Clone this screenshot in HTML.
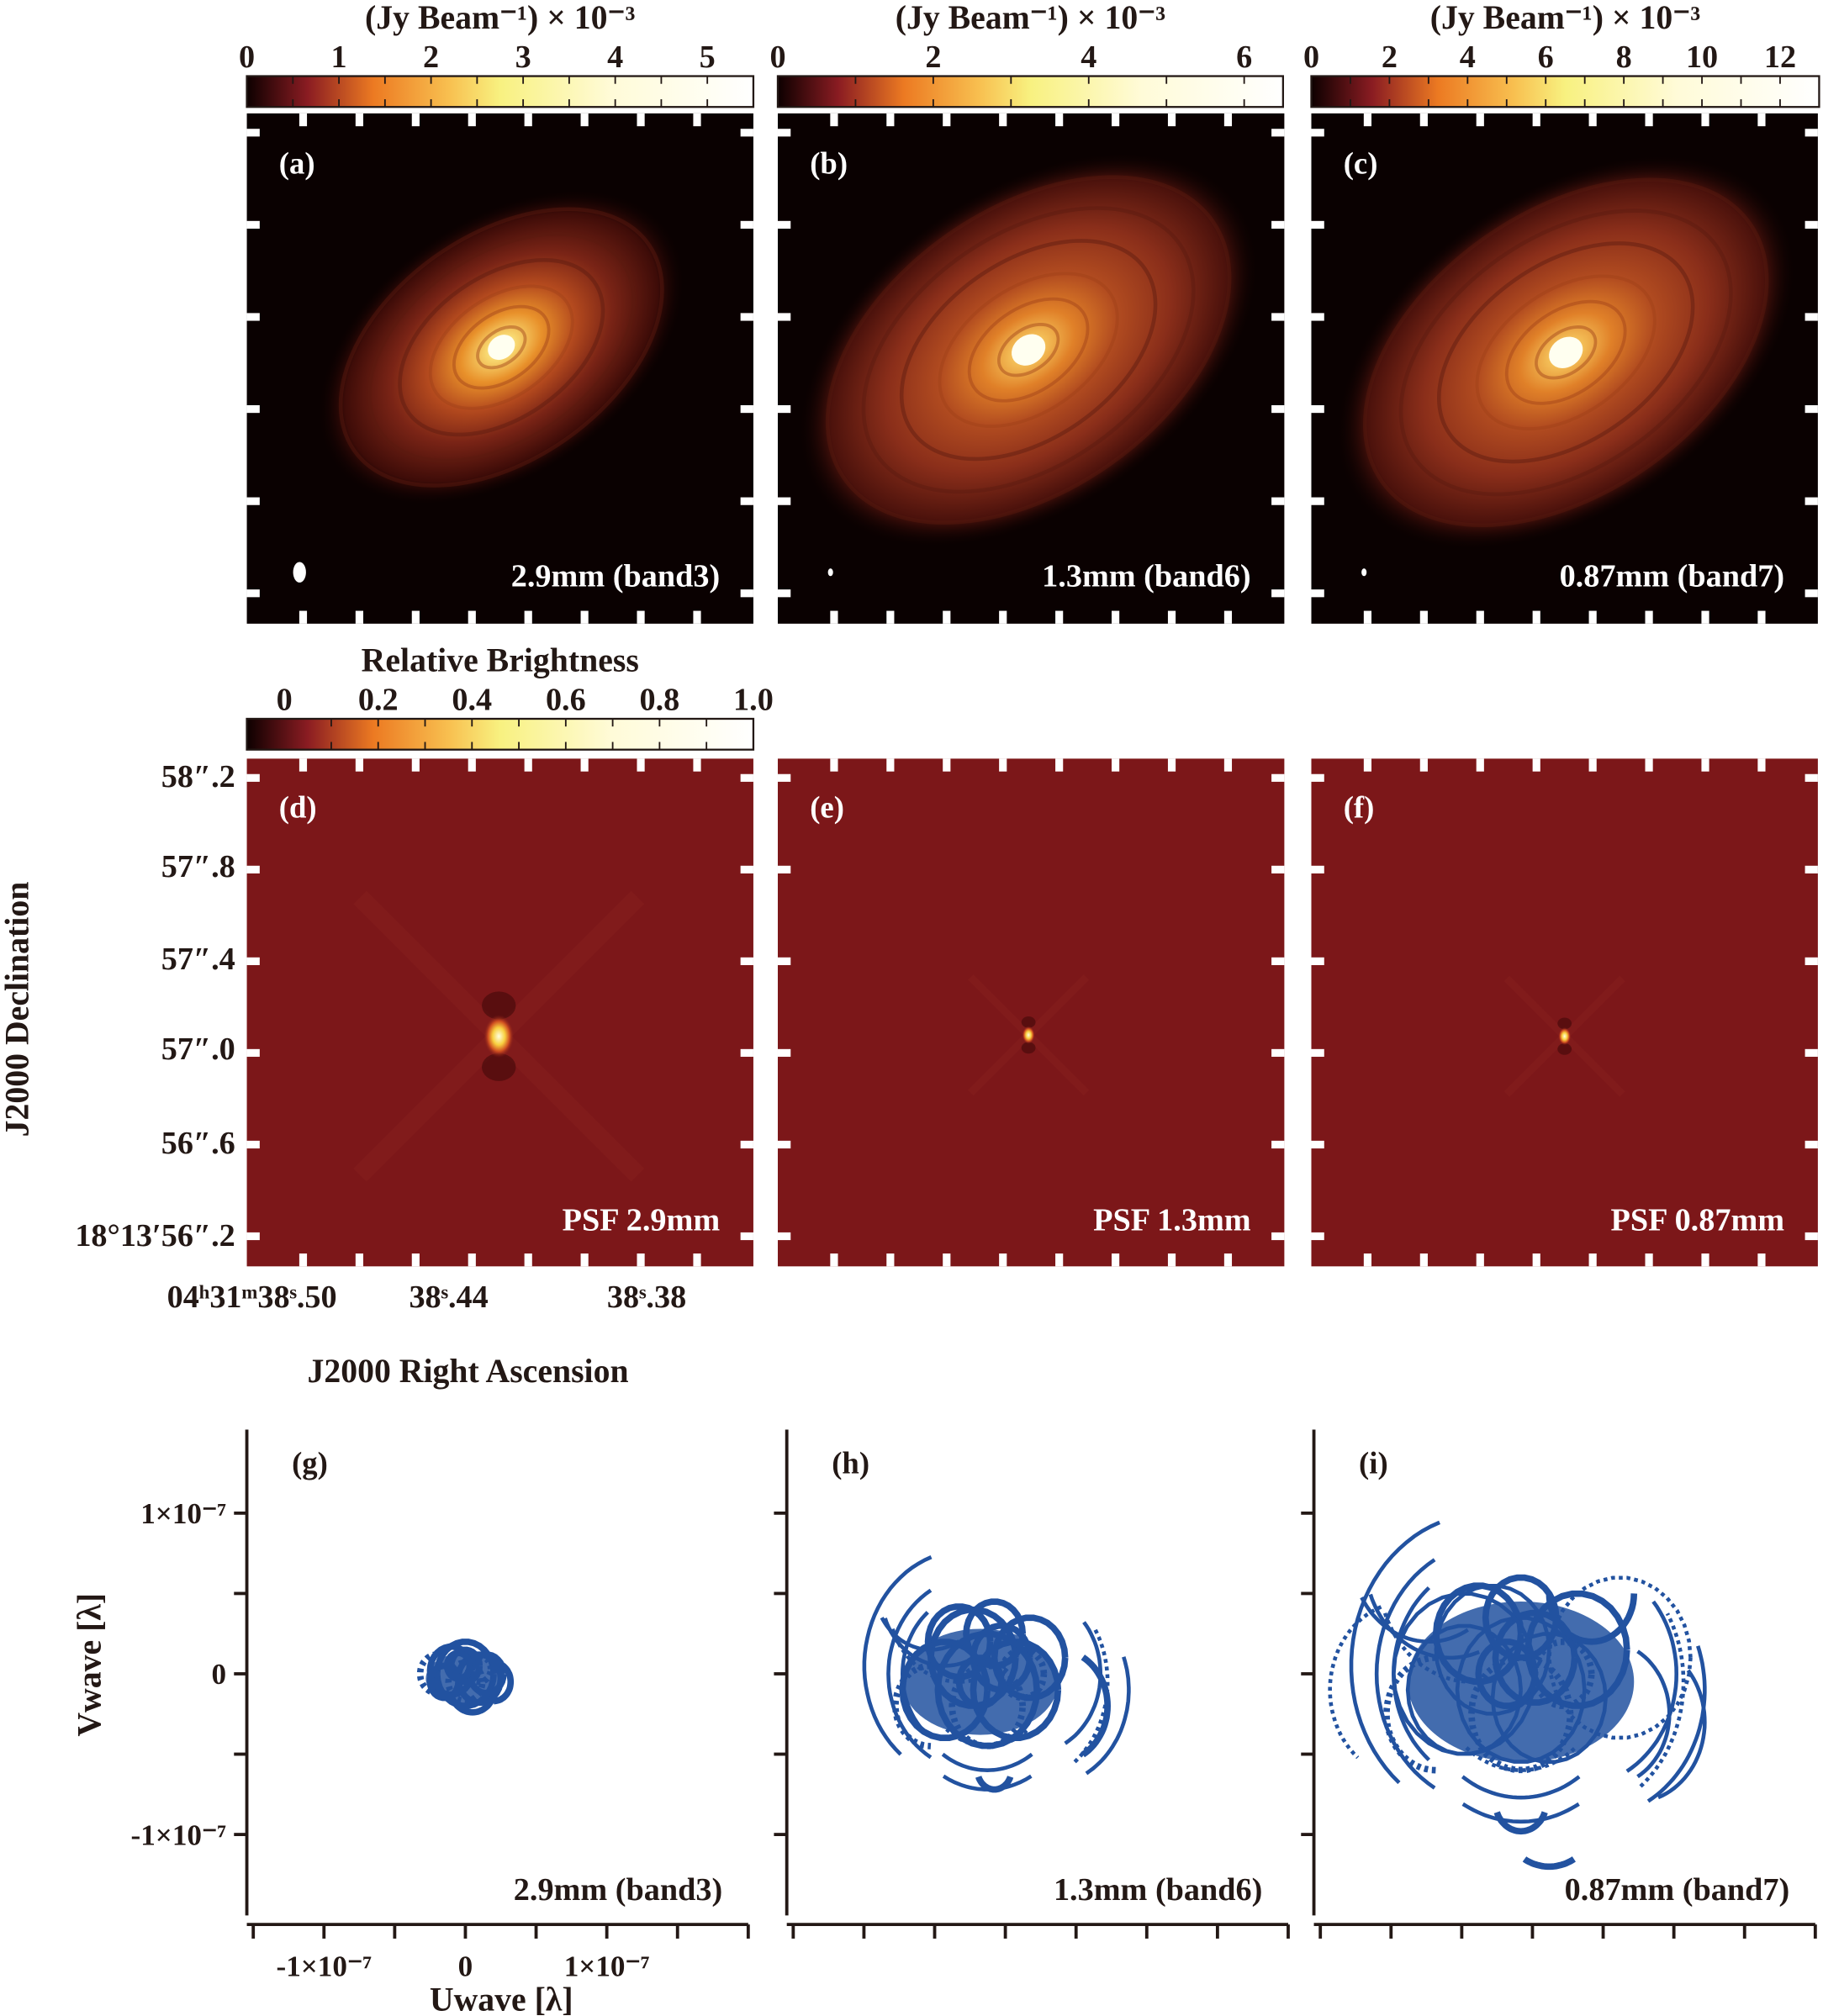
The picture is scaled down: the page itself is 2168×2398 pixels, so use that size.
<!DOCTYPE html>
<html><head><meta charset="utf-8"><style>
html,body{margin:0;padding:0;background:#fff;}
svg{display:block;}
text{font-family:"Liberation Serif",serif;font-weight:bold;}
</style></head><body>
<svg id="fig" width="2168" height="2398" viewBox="0 0 1418 1568" xmlns="http://www.w3.org/2000/svg">
<defs>
<linearGradient id="cmap" x1="0" x2="1" y1="0" y2="0">
<stop offset="0" stop-color="#0d0000"/><stop offset="0.12" stop-color="#8a1c22"/><stop offset="0.25" stop-color="#ec7a22"/><stop offset="0.4" stop-color="#f8c050"/><stop offset="0.5" stop-color="#f8f180"/><stop offset="0.72" stop-color="#fffbd8"/><stop offset="1" stop-color="#ffffff"/>
</linearGradient>
<radialGradient id="diskA" cx="0.5" cy="0.5" r="0.5">
<stop offset="0" stop-color="#fffbe0"/><stop offset="0.08" stop-color="#f8d870"/><stop offset="0.22" stop-color="#e8902a"/><stop offset="0.4" stop-color="#b44a1e"/><stop offset="0.6" stop-color="#7a2416"/><stop offset="0.85" stop-color="#3e0c08"/><stop offset="1" stop-color="#0a0000" stop-opacity="0"/>
</radialGradient>
<radialGradient id="diskB" cx="0.5" cy="0.5" r="0.5">
<stop offset="0" stop-color="#fff6d0"/><stop offset="0.07" stop-color="#f4c058"/><stop offset="0.2" stop-color="#e08028"/><stop offset="0.38" stop-color="#b24c20"/><stop offset="0.62" stop-color="#8a2e1a"/><stop offset="0.86" stop-color="#4c120c"/><stop offset="1" stop-color="#0a0000" stop-opacity="0"/>
</radialGradient>
<radialGradient id="psfspot" cx="0.5" cy="0.5" r="0.5">
<stop offset="0" stop-color="#ffffe0"/><stop offset="0.4" stop-color="#f8d040"/><stop offset="0.7" stop-color="#d05020"/><stop offset="1" stop-color="#7a1518" stop-opacity="0"/>
</radialGradient>
</defs>
<g id="root"></g>
</svg>
<script>
// ---- colorbar data ----
const cbA_ticks = [0,1,2,3,4,5];      const cbA_max = 5.5;
const cbB_ticks = [0,2,4,6];          const cbB_max = 6.5;
const cbC_ticks = [0,2,4,6,8,10,12];  const cbC_max = 13;
const cbD_ticks = [0,0.2,0.4,0.6,0.8,1.0]; const cbD_min = -0.08; const cbD_max = 1.0;
// ---- sky axes ----
const decLabels = ["58\u2033.2","57\u2033.8","57\u2033.4","57\u2033.0","56\u2033.6","18\u00b013\u203256\u2033.2"];
// ---- uv axes ----
const uvTickVals = [-1,0,1];
const uvTickLabels = ["-1\u00d710\u207b\u2077","0","1\u00d710\u207b\u2077"];
// dense-coverage cores (units 1e-7): centre u, centre v, half-width, half-height
const gCore=[0.0,-0.03,0.28,0.16];
const hCore=[-0.25,-0.05,0.55,0.33];
const iCore=[-0.2,-0.05,0.8,0.5];
// uv tracks (units 1e-7): centre u, centre v, radius, start angle, end angle (deg)
const gU=[0.0,-0.1,0.1,0.0,-0.15,0.15,0.0,-0.2,0.2,0.05,-0.05,0.1];
const gV=[0.0,0.02,-0.03,-0.05,-0.05,0.0,0.05,0.0,-0.05,-0.08,0.05,0.03];
const gR=[0.2,0.15,0.15,0.12,0.1,0.12,0.1,0.12,0.12,0.16,0.08,0.08];
const gA0=[0,0,0,0,0,0,0,90,-90,200,0,0];
const gA1=[360,360,360,360,360,360,360,270,90,340,360,360];
const hU=[-0.3,-0.3,-0.35,-0.2,-0.2,-0.2,0.1,0.0,0.2,-0.5,-0.6,-0.4,-0.3,0.0,-0.5,-0.2,0.1,-0.4,-0.1,-0.6,0.3,-0.2,-0.25,0.05,-0.15,-0.15];
const hV=[0.0,0.0,0.05,0.0,-0.05,-0.1,0.0,-0.05,-0.1,0.5,0.55,0.45,0.1,-0.1,-0.1,-0.2,0.1,0.2,0.1,-0.2,-0.2,-0.1,-0.05,0.0,0.25,-0.6];
const hR=[0.5,0.6,0.72,0.45,0.55,0.62,0.5,0.65,0.6,0.45,0.4,0.5,0.3,0.3,0.3,0.25,0.25,0.22,0.2,0.25,0.35,0.35,0.15,0.15,0.2,0.12];
const hA0=[130,120,110,230,235,240,-60,-50,-60,200,210,200,0,0,0,0,0,0,0,90,-60,0,0,0,0,200];
const hA1=[230,240,230,310,305,300,40,30,20,290,300,280,360,360,360,360,360,360,360,270,60,360,360,360,360,340];
const iU=[-0.4,-0.4,-0.45,-0.2,-0.2,-0.2,0.2,0.1,0.3,-0.7,-0.85,-0.55,-0.4,0.0,-0.6,-0.2,0.2,-0.5,-0.1,-0.8,0.4,-0.2,-0.3,0.1,-0.2,-0.2,0.6,-1.0,0.3,0.0,-0.6,0.5];
const iV=[0.0,0.0,0.05,0.0,-0.05,-0.1,0.0,-0.05,-0.1,0.7,0.75,0.6,0.15,-0.15,-0.1,-0.25,0.15,0.25,0.1,-0.25,-0.25,-0.1,0.0,0.0,0.35,-0.8,-0.3,-0.1,0.5,-0.85,0.0,0.1];
const iR=[0.7,0.82,0.95,0.6,0.72,0.82,0.7,0.85,0.8,0.6,0.55,0.65,0.4,0.4,0.4,0.35,0.35,0.3,0.28,0.35,0.45,0.45,0.2,0.2,0.25,0.18,0.5,0.55,0.3,0.35,0.5,0.5];
const iA0=[130,120,110,230,235,240,-60,-50,-60,200,210,200,0,0,0,0,0,0,0,90,-60,0,0,0,0,200,-70,110,180,240,0,0];
const iA1=[230,240,230,310,305,300,40,30,20,290,300,280,360,360,360,360,360,360,360,270,60,360,360,360,360,340,40,230,360,300,360,360];

const NS="http://www.w3.org/2000/svg";
const root=document.getElementById('root');
function mk(tag,attrs,parent){const e=document.createElementNS(NS,tag);for(const k in attrs)e.setAttribute(k,attrs[k]);(parent||root).appendChild(e);return e;}
function txt(s,x,y,size,fill,anchor,parent){const t=mk('text',{x:x,y:y,'font-size':size,fill:fill||'#231815','text-anchor':anchor||'middle'},parent);t.textContent=s;return t;}

// ---- colorbars ----
function colorbar(name,x0,x1,y0,vmin,vmax,ticks,minorStep,title,titleY,fmt){
  const g=mk('g',{});
  
  
  const sx=v=>x0+(v-vmin)/(vmax-vmin)*(x1-x0);
  mk('rect',{x:x0,y:y0,width:x1-x0,height:24,fill:'url(#cmap)',stroke:'#231815','stroke-width':1.5},g);
  for(let v=Math.ceil(vmin/minorStep)*minorStep+minorStep; v<vmax-1e-9; v+=minorStep){
    const X=sx(v); if(X<=x0+1) continue;
    mk('line',{x1:X,x2:X,y1:y0,y2:y0+6,stroke:'#231815','stroke-width':1.2},g);
    mk('line',{x1:X,x2:X,y1:y0+18,y2:y0+24,stroke:'#231815','stroke-width':1.2},g);
  }
  ticks.forEach(v=>{txt(fmt?fmt(v):String(v),sx(v),y0-7,25,'#231815','middle',g);});
  txt(title,(x0+x1)/2,titleY,26,'#231815','middle',g);
  return g;
}
const cbTitle="(Jy Beam\u207b\u00b9) \u00d7 10\u207b\u00b3";
colorbar('colorbar-band3',192,586,59,0,cbA_max,cbA_ticks,0.5,cbTitle,22);
colorbar('colorbar-band6',605,998,59,0,cbB_max,cbB_ticks,1,cbTitle,22);
colorbar('colorbar-band7',1020,1415,59,0,cbC_max,cbC_ticks,1,cbTitle,22);
colorbar('colorbar-psf',192,586,559,cbD_min,cbD_max,cbD_ticks,0.1,'Relative Brightness',522,v=>v===0?'0':v.toFixed(1));

// ---- image panels ----
function panelTicks(g,x,y,w,h){
  const step=w/9;
  for(let i=1;i<9;i++){const X=x+i*step;
    mk('rect',{x:X-3,y:y,width:6,height:10,fill:'#fff'},g);
    mk('rect',{x:X-3,y:y+h-10,width:6,height:10,fill:'#fff'},g);}
  const vs=h/5.5;
  for(let i=0;i<6;i++){const Y=y+15+i*vs*0.993;
    mk('rect',{x:x,y:Y-3,width:10,height:6,fill:'#fff'},g);
    mk('rect',{x:x+w-10,y:Y-3,width:10,height:6,fill:'#fff'},g);}
}
function diskPanel(name,x,label,band,cx,cy,rx,ry,grad,beam){
  const g=mk('g',{});
  
  
  mk('rect',{x:x,y:88,width:394,height:397,fill:'#0a0101'},g);
  const d=mk('g',{transform:`rotate(-35 ${cx} ${cy})`},g);
  mk('ellipse',{cx:cx,cy:cy,rx:rx,ry:ry,fill:`url(#${grad})`},d);
  [0.95,0.78,0.6,0.42,0.28,0.14].forEach((f,i)=>{
    mk('ellipse',{cx:cx,cy:cy,rx:rx*f*0.92,ry:ry*f*0.92,fill:'none',stroke:i<3?'#5a1a10':'#a04018','stroke-width':i<3?3:2.5,opacity:0.45},d);});
  mk('ellipse',{cx:cx,cy:cy,rx:rx*0.07,ry:ry*0.09,fill:'#fffff0'},d);
  panelTicks(g,x,88,394,397);
  txt(label,x+25,135,24,'#fff','start',g);
  txt(band,x+368,456,25,'#fff','end',g);
  mk('ellipse',{cx:x+41,cy:445,rx:beam[0],ry:beam[1],fill:'#fff'},g);
  return g;
}
diskPanel('image-panel-a',192,'(a)','2.9mm (band3)',390,270,160,100,'diskA',[5,8]);
diskPanel('image-panel-b',605,'(b)','1.3mm (band6)',800,272,200,125,'diskB',[2,3]);
diskPanel('image-panel-c',1020,'(c)','0.87mm (band7)',1218,274,200,125,'diskB',[2,3]);

function psfPanel(name,x,label,band,cx,cy,sz){
  const g=mk('g',{});
  
  
  mk('rect',{x:x,y:590,width:394,height:395,fill:'#7c1719'},g);
  mk('line',{x1:cx-sz*9,y1:cy-sz*9,x2:cx+sz*9,y2:cy+sz*9,stroke:'#8a2220','stroke-width':sz*1.2,opacity:0.4},g);
  mk('line',{x1:cx+sz*9,y1:cy-sz*9,x2:cx-sz*9,y2:cy+sz*9,stroke:'#8a2220','stroke-width':sz*1.2,opacity:0.4},g);
  mk('ellipse',{cx:cx,cy:cy-sz*2,rx:sz*1.1,ry:sz*0.9,fill:'#4a0c0c',opacity:0.7},g);
  mk('ellipse',{cx:cx,cy:cy+sz*2,rx:sz*1.1,ry:sz*0.9,fill:'#4a0c0c',opacity:0.7},g);
  mk('ellipse',{cx:cx,cy:cy,rx:sz*1.0,ry:sz*1.4,fill:'url(#psfspot)'},g);
  panelTicks(g,x,590,394,395);
  txt(label,x+25,636,24,'#fff','start',g);
  txt(band,x+368,957,25,'#fff','end',g);
  return g;
}
psfPanel('psf-panel-d',192,'(d)','PSF 2.9mm',388,806,12);
psfPanel('psf-panel-e',605,'(e)','PSF 1.3mm',800,805,5);
psfPanel('psf-panel-f',1020,'(f)','PSF 0.87mm',1217,806,5);

// sky axis labels
const decY=[603,673,745,815,888,960];
decLabels.forEach((s,i)=>{const t=txt(s,183,decY[i]+9,25,'#231815','end');
  
  });
const ra=[["04\u02b031\u1d5038\u02e2.50",196],["38\u02e2.44",349],["38\u02e2.38",503]];
ra.forEach(r=>{const t=txt(r[0],r[1],1017,25,'#231815','middle');
  
  });
let t=txt('J2000  Declination',0,0,26,'#231815','middle');
t.setAttribute('transform','translate(22 785) rotate(-90)');


t=txt('J2000  Right Ascension',364,1075,26,'#231815','middle');



// ---- uv panels ----
const uvSX=110, uvSY=125, uvCY=1302;
function uvPanel(name,axX,cx,label,band,core,U,V,R,A0,A1,showY,showX){
  const g=mk('g',{});
  
  
  const px=u=>cx+u*uvSX, py=v=>uvCY-v*uvSY;
  mk('line',{x1:axX,x2:axX,y1:1112,y2:1490,stroke:'#231815','stroke-width':2.5},g);
  mk('line',{x1:axX,x2:axX+390,y1:1497,y2:1497,stroke:'#231815','stroke-width':2.5},g);
  [1,0.5,0,-0.5,-1].forEach(v=>mk('line',{x1:axX-10,x2:axX,y1:py(v),y2:py(v),stroke:'#231815','stroke-width':2.5},g));
  for(let i=0;i<8;i++){const X=axX+5+i*55;mk('line',{x1:X,x2:X,y1:1497,y2:1508,stroke:'#231815','stroke-width':2.5},g);}
  if(showY) uvTickVals.forEach((v,i)=>txt(uvTickLabels[i],axX-16,py(v)+8,23,'#231815','end',g));
  if(showX) uvTickVals.forEach((v,i)=>txt(uvTickLabels[i],px(v),1537,23,'#231815','middle',g));
  txt(label,axX+35,1146,24,'#231815','start',g);
  txt(band,axX+370,1478,25,'#231815','end',g);
  const c=mk('ellipse',{cx:px(core[0]),cy:py(core[1]),rx:core[2]*uvSX,ry:core[3]*uvSY,fill:'#2252a0',opacity:0.85},g);
  
  
  for(let k=0;k<U.length;k++){
    let d='';const n=30;
    for(let j=0;j<=n;j++){const a=(A0[k]+(A1[k]-A0[k])*j/n)*Math.PI/180;
      const u=U[k]+R[k]*Math.cos(a), v=V[k]+R[k]*Math.sin(a);
      d+=(j?'L':'M')+px(u).toFixed(1)+' '+py(v).toFixed(1);}
    const p=mk('path',{d:d,fill:'none',stroke:'#2252a0','stroke-width':R[k]<0.4?5:3,'stroke-dasharray':k%4===3?'3 3':'none'},g);
    
    
  }
  return g;
}
uvPanel('uv-panel-g',192,362,'(g)','2.9mm (band3)',gCore,gU,gV,gR,gA0,gA1,true,true);
uvPanel('uv-panel-h',612,790,'(h)','1.3mm (band6)',hCore,hU,hV,hR,hA0,hA1,false,false);
uvPanel('uv-panel-i',1022,1205,'(i)','0.87mm (band7)',iCore,iU,iV,iR,iA0,iA1,false,false);
t=txt('Vwave [\u03bb]',0,0,26,'#231815','middle');
t.setAttribute('transform','translate(78 1295) rotate(-90)');


t=txt('Uwave [\u03bb]',390,1564,26,'#231815','middle');


</script>
</body></html>
